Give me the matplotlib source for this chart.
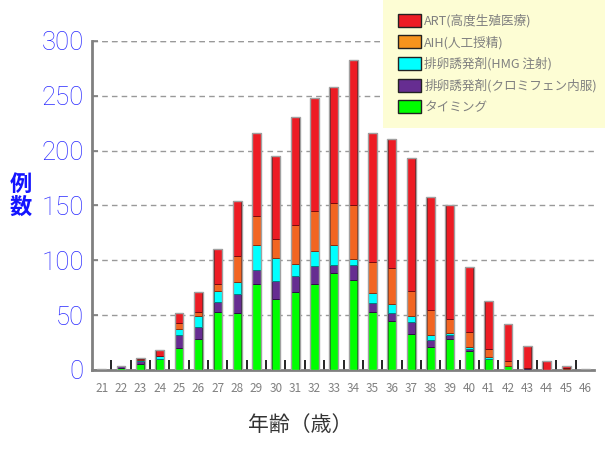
import matplotlib
matplotlib.use("Agg")
import matplotlib.pyplot as plt
from matplotlib.patches import Rectangle
from matplotlib.ticker import FixedLocator
import numpy as np

plt.rcParams['font.family'] = ['Noto Sans CJK JP', 'DejaVu Sans']

ages = list(range(21, 47))
timing = [1, 2, 5, 10, 20, 28, 53, 52, 78, 65, 71, 78, 88, 82, 53, 45, 33, 21, 28, 17, 10, 4, 1, 0, 0.5, 0]
clomid = [0, 2, 3, 0, 12, 11, 9, 17, 13, 16, 15, 17, 8, 14, 8, 7, 11, 6, 4, 2, 0, 0, 1, 0, 0, 0]
hmg = [0, 0, 1, 3, 5, 10, 10, 11, 23, 21, 11, 13, 18, 5, 9, 8, 5, 5, 2, 2, 2, 0, 0, 0, 0, 0]
aih = [0, 0, 1, 0, 6, 4, 6, 24, 26, 17, 35, 37, 38, 49, 28, 33, 23, 23, 12, 14, 7, 4, 0, 0, 1, 0]
art = [0, 0, 1, 5, 9, 18, 32, 50, 76, 76, 99, 103, 106, 133, 118, 118, 121, 103, 104, 59, 44, 34, 20, 8, 2.5, 1]

series = [
    ("タイミング", timing, "#00ff00", "#007a00"),
    ("排卵誘発剤(クロミフェン内服)", clomid, "#662d91", "#2e0f45"),
    ("排卵誘発剤(HMG 注射)", hmg, "#00ffff", "#008080"),
    ("AIH(人工授精)", aih, "#f26522", "#8a3010"),
    ("ART(高度生殖医療)", art, "#ed1c24", "#7a0a0e"),
]
legend_colors = {"AIH(人工授精)": "#f7941d"}

fig = plt.figure(figsize=(6.05, 4.5), dpi=100)
ax = fig.add_axes([0.152, 0.178, 0.830, 0.731])

width = 0.42
bottom = np.zeros(len(ages))
handles = []
for name, vals, col, edge in series:
    vals = np.array(vals, dtype=float)
    ax.bar(ages, vals, width, bottom=bottom, color=col, edgecolor=edge,
           linewidth=0.7, zorder=3)
    handles.append(Rectangle((0, 0), 1, 1, facecolor=legend_colors.get(name, col),
                             edgecolor="#222222", linewidth=1.0, label=name))
    bottom += vals
ax.bar(ages, bottom, width + 0.04, fill=False, edgecolor="#a0a0a0",
       linewidth=1.0, zorder=4)

ax.set_xlim(20.5, 46.45)
ax.set_ylim(0, 300)
ax.set_yticks(range(0, 301, 50))
ax.set_xticks(ages)
ax.set_xticklabels([str(a) for a in ages], color="#808080", fontsize=8.5)
ax.xaxis.set_minor_locator(FixedLocator([a + 0.5 for a in ages[:-1]]))
ax.tick_params(axis='x', which='major', length=0, pad=9)
ax.tick_params(axis='x', which='minor', length=7, direction='in', color='black', width=1.2)
ax.tick_params(axis='y', direction='in', length=4, color='#808080', width=1.2,
               labelcolor='#2a2aff', labelsize=18.5, pad=6)
for lab in ax.get_yticklabels():
    lab.set_family(['Roboto', 'DejaVu Sans'])
    lab.set_fontweight('light')

for s in ['top', 'right']:
    ax.spines[s].set_visible(False)
for s in ['left', 'bottom']:
    ax.spines[s].set_color('#808080')
    ax.spines[s].set_linewidth(2)
ax.grid(axis='y', linestyle=(0, (4, 3)), color='#999999', linewidth=1.0, zorder=0)
ax.axhline(300, linestyle=(0, (4, 3)), color='#999999', linewidth=1.0, zorder=0)

fig.text(0.034, 0.565, "例\n数", color="#1414ff", fontsize=16, fontweight='bold',
         ha='center', va='center', linespacing=1.0)
fig.text(0.497, 0.055, "年齢（歳）", color="#333333", fontsize=15, ha='center', va='center')

fig.patches.append(Rectangle((383 / 605, 1 - 128 / 450), 222 / 605, 128 / 450,
                             transform=fig.transFigure, facecolor="#fdfdd4",
                             edgecolor='none', zorder=10))
leg = fig.legend(handles=handles[::-1], loc='upper left',
                 bbox_to_anchor=(389 / 605, 1 - 5 / 450), frameon=False,
                 fontsize=9.1, labelcolor="#808080", handlelength=1.85,
                 handleheight=1.2, handletextpad=0.25, labelspacing=0.62,
                 borderpad=0.2)
leg.set_zorder(11)

fig.savefig("out.png", dpi=100)
